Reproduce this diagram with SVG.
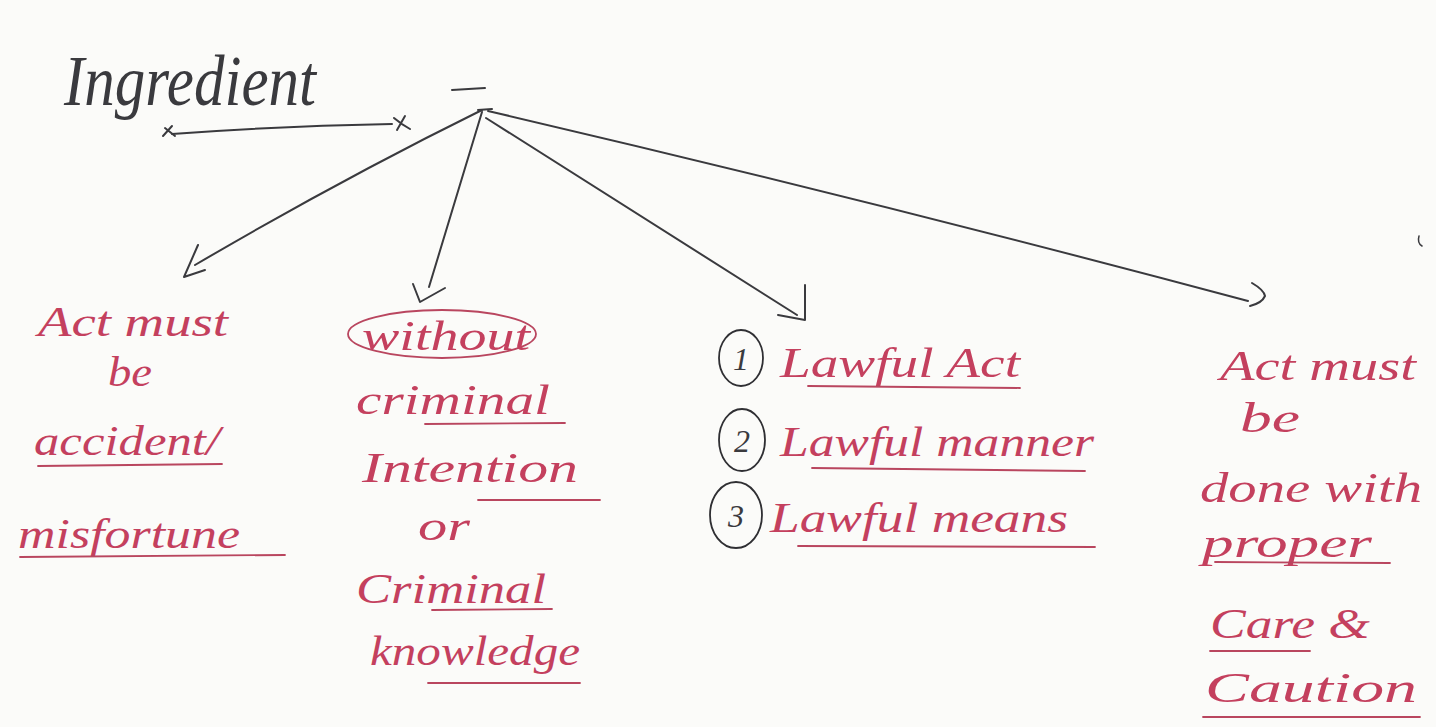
<svg xmlns="http://www.w3.org/2000/svg" width="1436" height="727" viewBox="0 0 1436 727">
<style>
.bg{fill:#fbfbf9}
.ink{fill:none;stroke:#3a3a3e;stroke-width:2;stroke-linecap:round;stroke-linejoin:round}
.red{font-family:"Liberation Serif","DejaVu Serif",serif;font-style:italic;fill:#c4405e}
.blk{font-family:"Liberation Serif","DejaVu Serif",serif;font-style:italic;fill:#3a3a3e}
.ul{fill:none;stroke:#b9465f;stroke-width:1.8;stroke-linecap:round}
.circ{fill:none;stroke:#2f2f33;stroke-width:1.8}
</style>
<rect class="bg" width="1436" height="727"/>

<g id="title">
<text class="blk" x="64" y="105" font-size="72" textLength="252" lengthAdjust="spacingAndGlyphs">Ingredient</text>
<path class="ink" d="M172 134 Q280 126 392 124"/>
<path class="ink" d="M163 136 L172 126 M165 128 L175 136"/>
<path class="ink" d="M394 118 Q401 124 410 129 M405 116 L397 130"/>
<path class="ink" d="M452 90 L485 88"/>
</g>

<g id="connectors">
<path class="ink" d="M478 110 L492 109"/>
<path class="ink" d="M482 110 Q340 180 195 265"/>
<path class="ink" d="M198 245 L184 277 L205 270"/>
<path class="ink" d="M482 112 Q455 200 429 287"/>
<path class="ink" d="M413 284 L420 302 L445 288"/>
<path class="ink" d="M486 118 Q640 215 797 315"/>
<path class="ink" d="M805 285 L805 320 L778 315"/>
<path class="ink" d="M488 111 Q870 200 1248 301"/>
<path class="ink" d="M1252 283 Q1264 290 1265 296 Q1262 303 1250 306"/>
</g>

<g id="node-accident">
<text class="red" x="38" y="336" font-size="42" textLength="190" lengthAdjust="spacingAndGlyphs">Act must</text>
<text class="red" x="108" y="386" font-size="42" textLength="44" lengthAdjust="spacingAndGlyphs">be</text>
<text class="red" x="34" y="455" font-size="42" textLength="186" lengthAdjust="spacingAndGlyphs">accident/</text>
<path class="ul" d="M38 466 L222 464"/>
<text class="red" x="18" y="548" font-size="42" textLength="222" lengthAdjust="spacingAndGlyphs">misfortune</text>
<path class="ul" d="M20 557 L285 555"/>
</g>

<g id="node-criminal">
<ellipse class="circ" style="stroke:#b9465f" cx="442" cy="334" rx="94" ry="24"/>
<text class="red" x="362" y="350" font-size="42" textLength="168" lengthAdjust="spacingAndGlyphs">without</text>
<text class="red" x="356" y="414" font-size="42" textLength="194" lengthAdjust="spacingAndGlyphs">criminal</text>
<path class="ul" d="M425 424 L565 423"/>
<text class="red" x="362" y="482" font-size="42" textLength="216" lengthAdjust="spacingAndGlyphs">Intention</text>
<path class="ul" d="M478 500 L600 500"/>
<text class="red" x="418" y="540" font-size="42" textLength="52" lengthAdjust="spacingAndGlyphs">or</text>
<text class="red" x="356" y="603" font-size="42" textLength="190" lengthAdjust="spacingAndGlyphs">Criminal</text>
<path class="ul" d="M432 610 L552 609"/>
<text class="red" x="370" y="665" font-size="42" textLength="210" lengthAdjust="spacingAndGlyphs">knowledge</text>
<path class="ul" d="M428 683 L580 683"/>
</g>

<g id="node-lawful">
<ellipse class="circ" cx="741" cy="358" rx="22" ry="28"/>
<text class="blk" x="741" y="370" font-size="32" text-anchor="middle">1</text>
<ellipse class="circ" cx="742" cy="440" rx="23" ry="31"/>
<text class="blk" x="742" y="452" font-size="32" text-anchor="middle">2</text>
<ellipse class="circ" cx="736" cy="515" rx="26" ry="33"/>
<text class="blk" x="736" y="527" font-size="32" text-anchor="middle">3</text>
<text class="red" x="780" y="377" font-size="42" textLength="240" lengthAdjust="spacingAndGlyphs">Lawful Act</text>
<path class="ul" d="M808 386 L1020 388"/>
<text class="red" x="780" y="456" font-size="42" textLength="314" lengthAdjust="spacingAndGlyphs">Lawful manner</text>
<path class="ul" d="M812 468 L1085 471"/>
<text class="red" x="770" y="532" font-size="42" textLength="298" lengthAdjust="spacingAndGlyphs">Lawful means</text>
<path class="ul" d="M798 546 L1095 547"/>
</g>

<g id="node-care">
<text class="red" x="1220" y="380" font-size="42" textLength="196" lengthAdjust="spacingAndGlyphs">Act must</text>
<text class="red" x="1240" y="432" font-size="42" textLength="60" lengthAdjust="spacingAndGlyphs">be</text>
<text class="red" x="1200" y="502" font-size="42" textLength="222" lengthAdjust="spacingAndGlyphs">done with</text>
<text class="red" x="1202" y="557" font-size="42" textLength="170" lengthAdjust="spacingAndGlyphs">proper</text>
<path class="ul" d="M1215 562 L1390 563"/>
<text class="red" x="1210" y="638" font-size="42" textLength="160" lengthAdjust="spacingAndGlyphs">Care &amp;</text>
<path class="ul" d="M1210 651 L1310 651"/>
<text class="red" x="1205" y="702" font-size="42" textLength="212" lengthAdjust="spacingAndGlyphs">Caution</text>
<path class="ul" d="M1203 717 L1420 717"/>
</g>

<path class="ink" style="stroke-width:1.5" d="M1419 236 Q1417 243 1422 246"/>
</svg>
